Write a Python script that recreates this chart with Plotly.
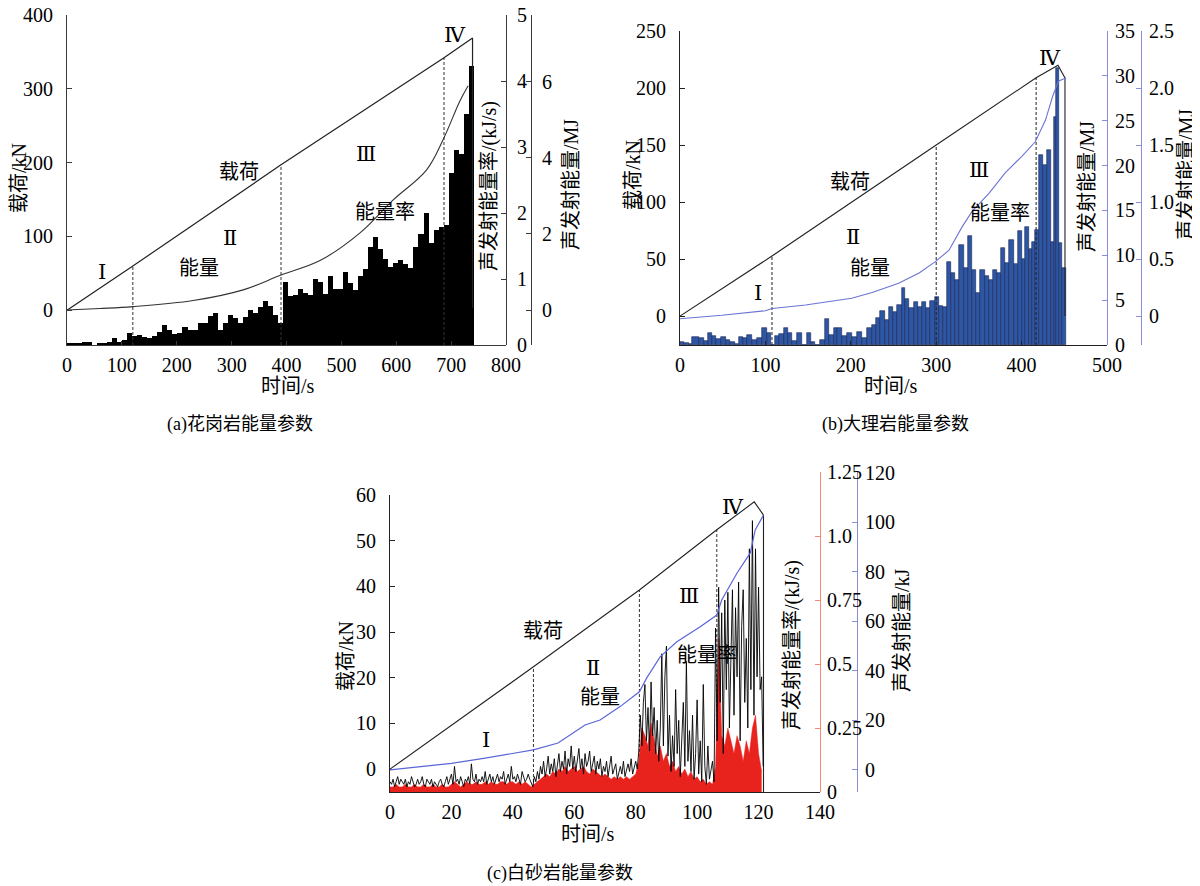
import plotly.graph_objects as go

W, H = 1200, 886
OFFSET = 8  # page body margin of the rendered html, compensated below

# ---------------- Panel (a) granite ----------------
A_BIN = 9.15  # s, histogram bin width
A_RATE = [0.03, 0.03, 0.03, 0.04, 0.04, 0.0, 0.02, 0.03, 0.05, 0.10,
          0.05, 0.08, 0.18, 0.13, 0.15, 0.12, 0.10, 0.14, 0.20, 0.30,
          0.23, 0.16, 0.18, 0.27, 0.23, 0.22, 0.33, 0.33, 0.44, 0.48,
          0.23, 0.34, 0.45, 0.41, 0.33, 0.42, 0.53, 0.49, 0.58, 0.66,
          0.59, 0.46, 0.34, 0.96, 0.75, 0.76, 0.85, 0.79, 0.76, 1.00,
          0.96, 0.78, 1.04, 0.85, 0.85, 1.10, 0.94, 0.84, 1.05, 1.15,
          1.48, 1.64, 1.45, 1.30, 1.18, 1.25, 1.29, 1.23, 1.16, 1.48,
          1.68, 2.00, 1.55, 1.74, 1.79, 1.82, 2.60, 2.95, 2.90, 3.50,
          4.22]
A_LOAD_T = [0, 120, 390, 687, 739, 739]
A_LOAD = [0, 60, 197, 342, 369, 3]
A_ENERGY_T = [0, 60, 120, 230, 321, 390, 461, 534, 594, 655, 686, 716, 731]
A_ENERGY = [0.0, 0.04, 0.09, 0.25, 0.53, 0.92, 1.3, 2.03, 2.89, 3.68, 4.5, 5.5, 5.9]
A_STAGES = [120, 390, 687]

# ---------------- Panel (b) marble ----------------
B_EDGES = [0, 4.3, 10.1, 14.1, 21.9, 27.7, 32.8, 37.5, 42.2, 48.4,
           53.9, 58.9, 64.8, 68.7, 73.4, 78.5, 84.3, 90.2, 96.0, 101.9,
           106.9, 110.9, 115.5, 121.4, 126.5, 131.1, 137.0, 142.9, 148.7, 153.8,
           158.5, 164.3, 169.4, 174.1, 179.9, 183.8, 189.7, 195.6, 201.4, 207.3,
           213.1, 219.0, 224.8, 229.5, 234.6, 239.7, 244.3, 249.0, 254.1, 259.9,
           263.9, 268.5, 273.6, 278.7, 283.4, 288.1, 293.1, 299.0, 302.9, 307.6,
           312.6, 317.7, 322.4, 327.1, 332.2, 337.2, 341.9, 346.6, 351.7, 356.8,
           361.4, 366.1, 371.2, 376.3, 380.9, 385.6, 390.7, 395.8, 400.5, 404.4,
           408.3, 412.2, 416.1, 420.0, 424.7, 429.7, 434.8, 437.9, 440.7, 444.2,
           447.7, 452.4]
B_RATE = [0.37, 0.19, 0.11, 0.93, 0.82, 0.48, 1.38, 1.0, 0.63, 0.93,
          0.56, 0.37, 0.11, 0.93, 0.82, 1.12, 0.56, 0.74, 1.86, 1.38,
          0.0, 1.0, 1.23, 1.86, 1.30, 0.48, 1.30, 0.0, 1.38, 0.37,
          0.0, 0.56, 2.86, 1.12, 1.86, 1.86, 1.0, 1.30, 0.93, 1.49,
          0.74, 1.86, 2.23, 2.97, 3.83, 2.79, 4.28, 3.72, 4.46, 6.32,
          5.09, 4.09, 4.83, 4.28, 4.83, 4.09, 4.94, 5.39, 4.35, 4.28,
          9.29, 7.99, 7.25, 11.15, 8.55, 12.16, 8.36, 5.84, 8.36, 7.70,
          7.25, 8.36, 7.99, 10.78, 9.11, 11.71, 9.03, 12.75, 9.55, 13.2,
          10.7, 11.5, 12.8, 21.2, 20.1, 21.7, 11.5, 25.4, 30.9, 11.4,
          8.55]
B_LOAD_T = [0, 107.7, 300, 417, 442.6, 450.8, 450.8]
B_LOAD = [0, 52.6, 150, 209, 220, 208.8, 0]
B_ENERGY_T = [0, 49, 100, 108, 147, 201, 225, 256, 280, 299, 315, 330, 342,
              362, 381, 400, 416, 428, 436, 443, 449, 452]
B_ENERGY = [-0.02, 0.01, 0.05, 0.07, 0.10, 0.16, 0.21, 0.29, 0.38, 0.48, 0.58,
            0.78, 0.92, 1.08, 1.26, 1.40, 1.53, 1.72, 1.92, 2.06, 2.08, 2.09]
B_STAGES = [107.7, 300, 417]

# ---------------- Panel (c) sandstone ----------------
C_DT = 0.5  # s, sampling of the rate trace
C_RATE = [0.04, 0.03, 0.05, 0.02, 0.04, 0.06, 0.03, 0.05, 0.04, 0.03,
          0.05, 0.02, 0.04, 0.03, 0.06, 0.04, 0.02, 0.03, 0.05, 0.03,
          0.04, 0.06, 0.03, 0.02, 0.05, 0.04, 0.03, 0.05, 0.02, 0.04,
          0.03, 0.02, 0.04, 0.05, 0.03, 0.02, 0.04, 0.06, 0.03, 0.05,
          0.07, 0.03, 0.10, 0.04, 0.05, 0.03, 0.06, 0.04, 0.02, 0.05,
          0.04, 0.06, 0.03, 0.11, 0.05, 0.04, 0.07, 0.03, 0.05, 0.04,
          0.06, 0.04, 0.08, 0.03, 0.05, 0.07, 0.04, 0.06, 0.03, 0.05,
          0.07, 0.04, 0.06, 0.05, 0.08, 0.03, 0.05, 0.07, 0.04, 0.10,
          0.05, 0.06, 0.04, 0.07, 0.05, 0.03, 0.08, 0.06, 0.04, 0.05,
          0.07, 0.05, 0.03, 0.02, 0.06, 0.04, 0.08, 0.05, 0.10, 0.07,
          0.12, 0.06, 0.09, 0.14, 0.07, 0.11, 0.08, 0.13, 0.06, 0.10,
          0.15, 0.08, 0.12, 0.09, 0.16, 0.07, 0.13, 0.10, 0.18, 0.09,
          0.14, 0.08, 0.12, 0.17, 0.09, 0.13, 0.07, 0.15, 0.10, 0.12,
          0.16, 0.08, 0.11, 0.14, 0.07, 0.12, 0.09, 0.13, 0.06, 0.10,
          0.08, 0.12, 0.06, 0.10, 0.14, 0.07, 0.09, 0.11, 0.05, 0.08,
          0.10, 0.07, 0.12, 0.06, 0.09, 0.11, 0.08, 0.13, 0.07, 0.10,
          0.12, 0.09, 0.16, 0.30, 0.18, 0.35, 0.42, 0.20, 0.33, 0.16,
          0.43, 0.22, 0.33, 0.15, 0.28, 0.12, 0.25, 0.54, 0.18, 0.45,
          0.57, 0.14, 0.30, 0.08, 0.22, 0.10, 0.40, 0.15, 0.28, 0.06,
          0.18, 0.35, 0.10, 0.51, 0.12, 0.24, 0.08, 0.30, 0.05, 0.15,
          0.36, 0.07, 0.20, 0.04, 0.42, 0.10, 0.03, 0.18, 0.05, 0.09,
          0.12, 0.04, 0.64, 0.20, 0.80, 0.35, 0.70, 0.15, 0.75, 0.40,
          0.78, 0.25, 0.55, 0.79, 0.30, 0.72, 0.45, 0.82, 0.20, 0.65,
          0.79, 0.35, 0.60, 0.25, 0.95, 0.40, 1.06, 0.30, 0.95, 0.45,
          0.80, 0.40, 0.45, 0.10]
C_FILL_DT = 1.0
C_FILL = [0.02, 0.02, 0.03, 0.02, 0.02, 0.03, 0.02, 0.02, 0.03, 0.02,
          0.02, 0.03, 0.02, 0.02, 0.03, 0.02, 0.02, 0.03, 0.02, 0.02,
          0.03, 0.04, 0.03, 0.02, 0.03, 0.04, 0.03, 0.03, 0.04, 0.03,
          0.03, 0.04, 0.03, 0.04, 0.03, 0.03, 0.04, 0.04, 0.03, 0.04,
          0.04, 0.03, 0.04, 0.03, 0.04, 0.03, 0.02, 0.03, 0.04, 0.05,
          0.06, 0.07, 0.06, 0.08, 0.07, 0.09, 0.08, 0.10, 0.08, 0.09,
          0.10, 0.08, 0.09, 0.10, 0.08, 0.07, 0.09, 0.08, 0.07, 0.06,
          0.07, 0.06, 0.05, 0.06, 0.05, 0.06, 0.05, 0.06, 0.05, 0.06,
          0.07, 0.12, 0.25, 0.22, 0.18, 0.27, 0.20, 0.14, 0.18, 0.12,
          0.15, 0.10, 0.12, 0.08, 0.10, 0.07, 0.09, 0.06, 0.08, 0.05,
          0.06, 0.04, 0.05, 0.03, 0.04, 0.03, 0.10, 0.60, 0.22, 0.18,
          0.25, 0.20, 0.15, 0.22, 0.18, 0.12, 0.20, 0.15, 0.25, 0.30,
          0.15, 0.08]
C_LOAD_T = [0, 46.7, 81.2, 106.4, 118.6, 121.6, 121.6]
C_LOAD = [0, 22.4, 39.2, 52.4, 58.5, 55.6, -5]
C_ENERGY_T = [0, 20, 31, 46.7, 54.7, 63.5, 68.4, 74.9, 81.2, 83.6, 88, 93.4,
              101, 106.4, 108, 113, 117.3, 118.9, 121.6]
C_ENERGY = [0, 2.7, 4.8, 8.1, 10.9, 18.2, 20.2, 25.6, 31.6, 37.2, 45.8, 51.8,
            57.9, 62.6, 68.7, 79.6, 87.7, 97, 103]
C_STAGES = [46.7, 81.2, 106.4]

STAGE_NAMES = ["Ⅰ", "Ⅱ", "Ⅲ", "Ⅳ"]

# ---------------- helpers ----------------
NUMFONT = "Liberation Serif"
MIXFONT = "'Liberation Serif', 'Noto Sans CJK SC'"
ROMAN = "DejaVu Serif"
TICKFONT = dict(family=NUMFONT, size=20, color="black")


def px(x):
    return (x - OFFSET) / W


def py(y):
    return 1 - (y - OFFSET) / H


def interp(x, xs, ys):
    for i in range(len(xs) - 1):
        if xs[i] <= x <= xs[i + 1] and xs[i + 1] > xs[i]:
            f = (x - xs[i]) / (xs[i + 1] - xs[i])
            return ys[i] + f * (ys[i + 1] - ys[i])
    return ys[-1]


def yax(color, rng, tickvals, ticktext=None, **kw):
    d = dict(range=rng, tickvals=tickvals, showline=True, linecolor=color,
             linewidth=1, ticks="inside", ticklen=5, tickcolor=color,
             showgrid=False, zeroline=False, tickfont=TICKFONT,
             ticklabelstandoff=6, automargin=False, ticklabeloverflow="allow")
    if ticktext is not None:
        d["ticktext"] = ticktext
    d.update(kw)
    return d


def xax(color, dom, rng, tickvals, anchor):
    return dict(domain=dom, range=rng, tickvals=tickvals, anchor=anchor,
                showline=True, linecolor=color, linewidth=1, ticks="inside",
                ticklen=4, tickcolor=color, showgrid=False, zeroline=False,
                tickfont=TICKFONT, ticklabelstandoff=2, automargin=False,
                ticklabeloverflow="allow")


fig = go.Figure()

# ---------- (a) ----------
a_x0 = [i * A_BIN for i in range(len(A_RATE))]
fig.add_trace(go.Bar(x=a_x0, y=A_RATE, width=[A_BIN] * len(A_RATE), offset=0,
                     marker=dict(color="black", line=dict(width=0)),
                     xaxis="x", yaxis="y", showlegend=False))
for t in A_STAGES:
    fig.add_trace(go.Scatter(x=[t, t], y=[-47, interp(t, A_LOAD_T, A_LOAD)],
                             mode="lines", line=dict(color="#333", width=1, dash="3px,2px"),
                             xaxis="x", yaxis="y2", showlegend=False))
fig.add_trace(go.Scatter(x=A_LOAD_T, y=A_LOAD, mode="lines",
                         line=dict(color="#222", width=1.2),
                         xaxis="x", yaxis="y2", showlegend=False))
fig.add_trace(go.Scatter(x=A_ENERGY_T, y=A_ENERGY, mode="lines",
                         line=dict(color="#333", width=1.1, shape="spline"),
                         xaxis="x", yaxis="y3", showlegend=False))

# ---------- (b) ----------
b_w = [B_EDGES[i + 1] - B_EDGES[i] for i in range(len(B_RATE))]
fig.add_trace(go.Bar(x=B_EDGES[:-1], y=B_RATE, width=b_w, offset=0,
                     marker=dict(color="#2D56A4", line=dict(color="#1B2552", width=0.6)),
                     xaxis="x2", yaxis="y4", showlegend=False))
for t in B_STAGES:
    fig.add_trace(go.Scatter(x=[t, t], y=[-25.4, interp(t, B_LOAD_T, B_LOAD)],
                             mode="lines", line=dict(color="#222", width=1, dash="3px,2px"),
                             xaxis="x2", yaxis="y5", showlegend=False))
fig.add_trace(go.Scatter(x=B_LOAD_T, y=B_LOAD, mode="lines",
                         line=dict(color="#222", width=1.1),
                         xaxis="x2", yaxis="y5", showlegend=False))
fig.add_trace(go.Scatter(x=B_ENERGY_T, y=B_ENERGY, mode="lines",
                         line=dict(color="#6A74D6", width=1.1),
                         xaxis="x2", yaxis="y6", showlegend=False))

# ---------- (c) ----------
for t in C_STAGES:
    fig.add_trace(go.Scatter(x=[t, t], y=[-5, interp(t, C_LOAD_T, C_LOAD)],
                             mode="lines", line=dict(color="#333", width=1, dash="3px,2px"),
                             xaxis="x3", yaxis="y7", showlegend=False))
fig.add_trace(go.Scatter(x=C_LOAD_T, y=C_LOAD, mode="lines",
                         line=dict(color="#222", width=1.1),
                         xaxis="x3", yaxis="y7", showlegend=False))
c_t_fill = [i * C_FILL_DT for i in range(len(C_FILL))]
fig.add_trace(go.Scatter(x=c_t_fill, y=C_FILL, mode="lines", fill="tozeroy",
                         fillcolor="#E8231E", line=dict(color="#E8231E", width=0.5),
                         xaxis="x4", yaxis="y8", showlegend=False))
c_t = [i * C_DT for i in range(len(C_RATE))]
fig.add_trace(go.Scatter(x=c_t, y=C_RATE, mode="lines",
                         line=dict(color="black", width=0.9),
                         xaxis="x4", yaxis="y8", showlegend=False))
fig.add_trace(go.Scatter(x=C_ENERGY_T, y=C_ENERGY, mode="lines",
                         line=dict(color="#5A66D8", width=1.2),
                         xaxis="x4", yaxis="y9", showlegend=False))

# ---------- layout ----------
A_X = [px(67), px(506)]
A_Y = [py(345), py(15)]
B_X = [px(680), px(1107)]
B_Y = [py(345), py(31)]
C_X = [px(390), px(820)]
C_YL = [py(792), py(495)]
C_YA = [py(792), py(472)]

GRAY = "#3a3a3a"
LAV = "#8C8CDA"
SALMON = "#F08A7E"

layout = dict(
    width=W, height=H, autosize=False,
    margin=dict(l=0, r=0, t=0, b=0, pad=0, autoexpand=False),
    paper_bgcolor="white", plot_bgcolor="rgba(0,0,0,0)",
    bargap=0, showlegend=False,
    xaxis=xax(GRAY, A_X, [0, 800], list(range(0, 801, 100)), "y"),
    yaxis=yax(GRAY, [0, 5], [0, 1, 2, 3, 4, 5], domain=A_Y, anchor="free",
              position=px(506), side="right"),
    yaxis2=yax(GRAY, [-47, 400], [0, 100, 200, 300, 400], overlaying="y",
               side="left", anchor="x", ticklabelstandoff=9),
    yaxis3=yax(GRAY, [-0.92, 7.76], [0, 2, 4, 6], overlaying="y", side="right",
               anchor="free", position=px(531)),
    xaxis2=xax("#222", B_X, [0, 500], list(range(0, 501, 100)), "y4"),
    yaxis4=yax(LAV, [0, 35], list(range(0, 36, 5)), domain=B_Y, anchor="free",
               position=px(1107), side="right", ticklabelstandoff=3),
    yaxis5=yax("#222", [-25.4, 250], [0, 50, 100, 150, 200, 250], overlaying="y4",
               side="left", anchor="x2", ticklabelstandoff=9),
    yaxis6=yax(LAV, [-0.25, 2.5], [0, 0.5, 1, 1.5, 2, 2.5],
               ["0", "0.5", "1.0", "1.5", "2.0", "2.5"], overlaying="y4",
               side="right", anchor="free", position=px(1141), ticklabelstandoff=3),
    xaxis3=xax("#222", C_X, [0, 140], list(range(0, 141, 20)), "y7"),
    yaxis7=yax("#222", [-5, 60], list(range(0, 61, 10)), domain=C_YL,
               side="left", anchor="x3", ticklabelstandoff=9),
    xaxis4=dict(domain=C_X, range=[0, 140], anchor="y8", visible=False,
                automargin=False),
    yaxis8=yax(SALMON, [0, 1.25], [0, 0.25, 0.5, 0.75, 1.0, 1.25],
               ["0", "0.25", "0.5", "0.75", "1.0", "1.25"], domain=C_YA,
               anchor="free", position=px(820), side="right", ticklabelstandoff=2),
    yaxis9=yax(LAV, [-8.9, 120.4], list(range(0, 121, 20)), overlaying="y8",
               side="right", anchor="free", position=px(857), ticklabelstandoff=3),
)
fig.update_layout(**layout)


def ann(text, x, y, size=20, angle=0, family=MIXFONT):
    return dict(text=text, x=px(x), y=py(y), xref="paper", yref="paper",
                showarrow=False, textangle=angle, xanchor="center",
                yanchor="middle", font=dict(size=size, family=family, color="black"))


anns = []
# axis titles and captions
anns += [ann("载荷/kN", 19, 178, angle=-90),
         ann("声发射能量率/(kJ/s)", 489, 186, angle=-90),
         ann("声发射能量/MJ", 571, 185, angle=-90),
         ann("时间/s", 288, 386),
         ann("(a)花岗岩能量参数", 240, 424, size=18)]
anns += [ann("载荷/kN", 633, 175, angle=-90),
         ann("声发射能量/MJ", 1087, 187, angle=-90),
         ann("声发射能量/MJ", 1186, 175, angle=-90),
         ann("时间/s", 891, 386),
         ann("(b)大理岩能量参数", 895, 424, size=18)]
anns += [ann("载荷/kN", 346, 656, angle=-90),
         ann("声发射能量率/(kJ/s)", 792, 645, angle=-90),
         ann("声发射能量/kJ", 902, 630, angle=-90),
         ann("时间/s", 588, 834),
         ann("(c)白砂岩能量参数", 560, 873, size=18)]

# stage labels
A_POS = [(102, 272), (230, 238), (366, 154), (455, 35)]
B_POS = [(758, 293), (853, 237), (979, 170), (1050, 58)]
C_POS = [(486, 740), (593, 668), (689, 596), (733, 507)]
for pos in (A_POS, B_POS, C_POS):
    for name, (x, y) in zip(STAGE_NAMES, pos):
        anns.append(ann(name, x, y, size=21, family=ROMAN))

anns += [ann("载荷", 239, 172), ann("能量", 199, 268), ann("能量率", 385, 212)]
anns += [ann("载荷", 850, 182), ann("能量", 870, 268), ann("能量率", 1000, 213)]
anns += [ann("载荷", 543, 631), ann("能量", 600, 697), ann("能量率", 707, 655)]

fig.update_layout(annotations=anns)
fig.write_html("out.html")
